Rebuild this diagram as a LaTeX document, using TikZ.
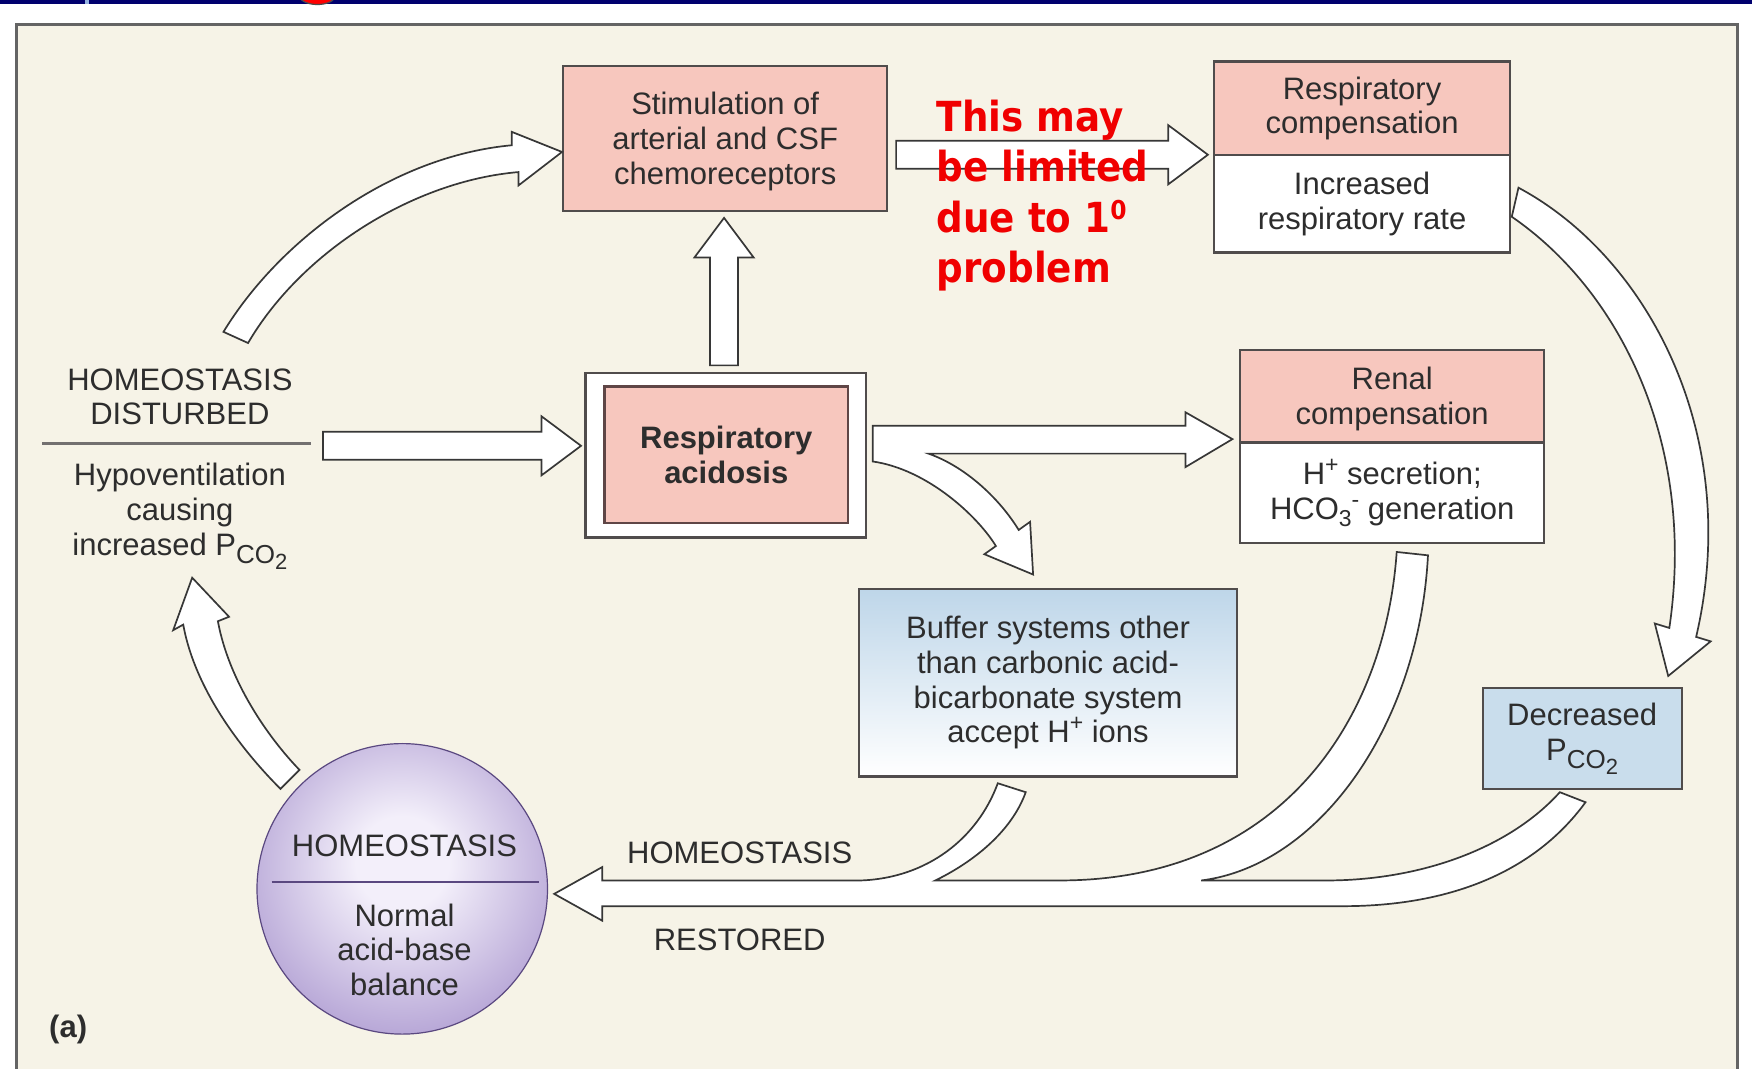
\documentclass[tikz,border=0pt]{standalone}
\usepackage{fontspec}
\setmainfont{Liberation Sans}
\newfontfamily\redfont{DejaVu Sans}[FakeStretch=0.9]
\usetikzlibrary{calc}
\definecolor{panelbg}{RGB}{246,243,231}
\definecolor{panelline}{RGB}{100,100,100}
\definecolor{pinkfill}{RGB}{247,199,190}
\definecolor{boxline}{RGB}{80,76,76}
\definecolor{innerline}{RGB}{95,70,70}
\definecolor{txt}{RGB}{45,45,45}
\definecolor{bluefill}{RGB}{201,221,236}
\definecolor{bluetop}{RGB}{190,214,233}
\definecolor{navybar}{RGB}{0,0,110}
\definecolor{tickblue}{RGB}{150,180,225}
\definecolor{hcin}{RGB}{243,239,250}
\definecolor{hcout}{RGB}{138,112,188}
\definecolor{circline}{RGB}{90,72,128}
\definecolor{arrowline}{RGB}{55,55,55}
\definecolor{redtxt}{RGB}{240,0,0}
\pgfdeclareradialshading{homeo}{\pgfpoint{0bp}{5bp}}{color(0bp)=(hcin); color(8bp)=(hcin); color(44bp)=(hcout); color(80bp)=(hcout)}
\newcommand\unitD{0.5587pt}
\newcommand\bfnt{\fontsize{15.5}{17.3}\selectfont}
\newcommand\sbs[1]{\raisebox{-3.5pt}{\fontsize{11.5}{11.5}\selectfont #1}}
\newcommand\sps[1]{\raisebox{6pt}{\fontsize{11.5}{11.5}\selectfont #1}}
\newcommand\pco{P\raisebox{-4pt}{\fontsize{13}{13}\selectfont CO\raisebox{-3pt}{\fontsize{11}{11}\selectfont 2}}}
\newcommand\fsw{7pt}
\newcommand\fhw{14.8pt}
\newcommand\fhl{19.8pt}
\newcommand\hfat[2]{\draw[fatarrow] let \p1=(#1), \p2=(#2) in (\x1,\y1+\fsw) -- (\x2-\fhl,\y1+\fsw) -- (\x2-\fhl,\y1+\fhw) -- (\x2,\y1) -- (\x2-\fhl,\y1-\fhw) -- (\x2-\fhl,\y1-\fsw) -- (\x1,\y1-\fsw) -- cycle;}
\newcommand\vfat[2]{\draw[fatarrow] let \p1=(#1), \p2=(#2) in (\x1-\fsw,\y1) -- (\x1-\fsw,\y2-\fhl) -- (\x1-\fhw,\y2-\fhl) -- (\x1,\y2) -- (\x1+\fhw,\y2-\fhl) -- (\x1+\fsw,\y2-\fhl) -- (\x1+\fsw,\y1) -- cycle;}
\begin{document}
\begin{tikzpicture}[x=0.5587pt, y=-0.5587pt,
  fatarrow/.style={draw=arrowline, fill=white, line width=0.85pt, line join=miter},
  box/.style={draw=boxline, line width=1.1pt, inner sep=0pt, align=center, text=txt, font=\bfnt},
  lbl/.style={inner sep=0pt, align=center, text=txt, font=\bfnt},
  divline/.style={draw=boxline!80, line width=1.2pt}]
\useasboundingbox (0,0) rectangle (1568,956);
\fill[white] (0,0) rectangle (1568,956);
% top bar
\fill[navybar] (0,0) rectangle (1568,3.5);
\fill[tickblue] (76,0) rectangle (80,4);
\draw[fill=red, draw=black!70, line width=0.6pt] (284,-4) ellipse [x radius=9pt, y radius=4.5pt];
% panel
\draw[draw=panelline, line width=1.6pt, fill=panelbg] (15,22) rectangle (1555,975);

% ---- nodes ----
\node[box, fill=pinkfill, minimum width={290*\unitD}, minimum height={130*\unitD},
  label={[lbl, yshift=-1.5pt]center:{Stimulation of\\arterial and CSF\\chemoreceptors}}] (stim) at (649,124) {};
\node[box, fill=pinkfill, minimum width={265*\unitD}, minimum height={84*\unitD}] (rcTop) at (1219,97) {Respiratory\\compensation};
\node[box, fill=white, minimum width={265*\unitD}, minimum height={87*\unitD}] (rcBot) at (1219,182.5) {Increased\\respiratory rate};
\node[box, fill=white, line width=1.3pt, minimum width={251*\unitD}, minimum height={147*\unitD}] (acidOut) at (649.5,407.5) {};
\node[box, fill=pinkfill, draw=innerline, line width=1.3pt, minimum width={218*\unitD}, minimum height={122*\unitD}, font=\bfnt\bfseries] (acid) at (650,407) {Respiratory\\acidosis};
\node[box, fill=pinkfill, minimum width={272*\unitD}, minimum height={83*\unitD},
  label={[lbl, yshift=-1.4pt]center:{Renal\\compensation}}] (rnTop) at (1246,354.5) {};
\node[box, fill=white, minimum width={272*\unitD}, minimum height={90*\unitD}] (rnBot) at (1246,441) {H\sps{+} secretion;\\HCO\sbs{3}\sps{-} generation};
\node[box, top color=bluetop, bottom color=white, minimum width={338*\unitD}, minimum height={168*\unitD}] (buf) at (938,611) {Buffer systems other\\than carbonic acid-\\bicarbonate system\\accept H\sps{+} ions};
\node[box, fill=bluefill, minimum width={178*\unitD}, minimum height={90*\unitD}] (decr) at (1416,661) {Decreased\\\pco};
\node[circle, draw=circline, line width=0.6pt, shading=homeo, minimum size={260*\unitD}, inner sep=0pt] (hc) at (360,795.5) {};
\node[lbl] (hcT) at (362,757) {HOMEOSTASIS};
\draw[draw=circline, line width=1.3pt] (243,789.5) -- (482,789.5);
\node[lbl] (hcB) at (362,850) {Normal\\acid-base\\balance};
\node[lbl] (hdT) at (161,355) {HOMEOSTASIS\\DISTURBED};
\draw[divline] (38,397) -- (278,397);
\node[lbl] (hdB) at (161,462) {Hypoventilation\\causing\\increased \pco};
\node[lbl] (hrA) at (662,763) {HOMEOSTASIS};
\node[lbl] (hrB) at (662,841) {RESTORED};
\node[lbl, font=\bfnt\bfseries] (alab) at (61,921) {(a)};

% ---- arrow end points ----
\coordinate (aTail) at (289,399);
\coordinate (aTip) at (520,399);
\coordinate (eTail) at (802,138.5);
\coordinate (eTip) at (1081,138.5);
\coordinate (bTail) at (648,327);
\coordinate (bTip) at (648,195);

% ---- straight arrows ----
\hfat{aTail}{aTip}
\hfat{eTail}{eTip}
\vfat{bTail}{bTip}

% curved arrow: disturbed -> stimulation
\draw[fatarrow] (200,297) .. controls (250,215) and (350,140) .. (458,130) -- (458,118) -- (503,136) -- (464,166) -- (464,154) .. controls (370,162) and (270,225) .. (222,307) -- cycle;
% curved arrow: homeostasis circle -> disturbed
\draw[fatarrow] (251,706) .. controls (220,675) and (175,620) .. (164,559) -- (155,564) -- (172,517) -- (205,552) -- (195,556) .. controls (205,610) and (240,660) .. (268,689) -- cycle;
% acidosis -> renal, branch -> buffer
\draw[fatarrow] (781,381) -- (1061,381) -- (1061,369) -- (1103,393) -- (1061,418) -- (1061,406) -- (831,406) .. controls (865,418) and (895,447) .. (911.7,474.3) -- (921.9,467) -- (924.6,514.2) -- (881,496) -- (891.3,488.7) .. controls (875,462) and (830,420) .. (781,413) -- cycle;
% respiratory compensation -> decreased PCO2
\draw[fatarrow] (1359,168) .. controls (1475,230) and (1560,390) .. (1518,570) -- (1531,574) -- (1493,605) -- (1481,558) -- (1494,562) .. controls (1518,400) and (1452,262) .. (1353,194) -- cycle;
% merged arrow -> homeostasis restored
\draw[fatarrow] (496,800) -- (539,776) -- (539,788) -- (770,788) .. controls (830,786) and (875,750) .. (893,701) -- (918,709) .. controls (905,745) and (870,772) .. (837,788) -- (948,788) .. controls (1150,788) and (1240,640) .. (1250,494) -- (1278,497) .. controls (1270,650) and (1180,775) .. (1075,788) -- (1187,788) .. controls (1270,788) and (1350,760) .. (1396,709) -- (1419,718) .. controls (1370,785) and (1290,811) .. (1202,811) -- (539,811) -- (539,824) -- cycle;

% red annotation
\node[anchor=north west, inner sep=0pt, align=left, text=redtxt, font=\redfont\bfseries\fontsize{20.7}{25.2}\selectfont] (note) at (838,89) {This may\\be limited\\due to 1\raisebox{6.5pt}{\fontsize{13}{13}\selectfont 0}\\problem};
\end{tikzpicture}
\end{document}
